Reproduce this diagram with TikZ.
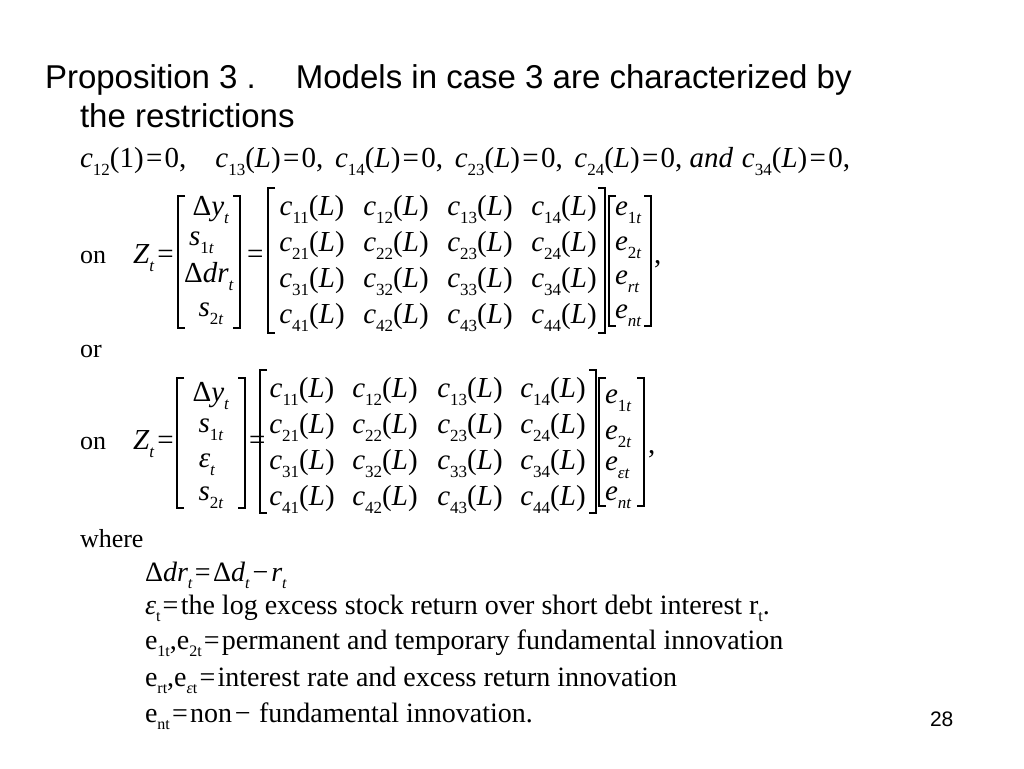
\documentclass[tikz,border=0pt]{standalone}
\usepackage{fontspec}
\setmainfont{Liberation Serif}
\setsansfont{Liberation Sans}
\newcommand\subsz{17}
\newcommand\sbs[1]{\raisebox{-0.28em}{\fontsize{\subsz}{\subsz}\selectfont #1}}
\newcommand\iv[1]{\textit{#1}}
\newcommand\eqs{\hspace{0.08em}=\hspace{0.08em}}
\newcommand\cL[1]{\iv{c}\sbs{#1}(\iv{L})}
\newcommand\cz[1]{\iv{c}\sbs{#1}(\iv{L})\eqs0,}
\begin{document}
\begin{tikzpicture}[x=1pt,y=-1pt,
  every node/.style={inner sep=0pt,outer sep=0pt},
  ttl/.style={font=\sffamily\fontsize{33}{38}\selectfont,anchor=base west},
  plain/.style={font=\fontsize{26}{30}\selectfont,anchor=base west},
  txt/.style={font=\fontsize{29}{33}\selectfont,anchor=base west},
  ent/.style={font=\fontsize{29}{33}\selectfont,anchor=base},
  wl/.style={font=\fontsize{28}{32}\selectfont\renewcommand\subsz{16},anchor=base west},
  brk/.style={line width=1.1pt,line cap=butt,line join=miter}]
\useasboundingbox[fill=white] (0,0) rectangle (1024,768);
% title
\node[ttl] (t1) at (45,88) {Proposition 3 .\hspace{40pt}Models in case 3 are characterized by};
\node[ttl] (t2) at (80,127) {the restrictions};
% restrictions
\node[txt] (r) at (80,167) {\iv{c}\sbs{12}(1)\eqs0,\hspace{1.0em}\cz{13}\hspace{0.4em}\cz{14}\hspace{0.4em}\cz{23}\hspace{0.4em}\cz{24} \iv{and}\hspace{0.3em}\cz{34}};
% ---------- matrix 1 ----------
\node[plain] (on1) at (80,263) {on};
\node[txt] (z1) at (133,263) {\iv{Z}\sbs{\iv{t}}\hspace{0.1em}=};
\node[ent] (v11) at (211,215) {Δ\iv{y}\sbs{\iv{t}}};
\node[txt] (v12) at (189,245) {\iv{s}\sbs{1\iv{t}}};
\node[ent] (v13) at (209,282) {Δ\iv{dr}\sbs{\iv{t}}};
\node[ent] (v14) at (211,316) {\iv{s}\sbs{2\iv{t}}};
\node[txt] (eq1) at (247,263) {=};
\foreach \r/\y in {1/215,2/251,3/287,4/323}{
  \foreach \c/\x in {1/312,2/396,3/480,4/564}{
    \node[ent] (a\r\c) at (\x,\y) {\cL{\r\c}};
  }
}
\node[txt] (e11) at (615,215) {\iv{e}\sbs{1\iv{t}}};
\node[txt] (e12) at (615,250) {\iv{e}\sbs{2\iv{t}}};
\node[txt] (e13) at (615,284) {\iv{e}\sbs{\iv{rt}}};
\node[txt] (e14) at (615,318) {\iv{e}\sbs{\iv{nt}}};
\node[txt] (cm1) at (654,263) {,};
% brackets matrix 1
\draw[brk] (185,196) -- (178,196) -- (178,328) -- (185,328);
\draw[brk] (233,196) -- (240,196) -- (240,328) -- (233,328);
\draw[brk] (275,188) -- (268,188) -- (268,333) -- (275,333);
\draw[brk] (598,188) -- (605,188) -- (605,333) -- (598,333);
\draw[brk] (616,196) -- (609,196) -- (609,326) -- (616,326);
\draw[brk] (644,196) -- (651,196) -- (651,326) -- (644,326);
% ---------- or ----------
\node[plain] (or) at (80,357) {or};
% ---------- matrix 2 ----------
\node[plain] (on2) at (80,449) {on};
\node[txt] (z2) at (133,449) {\iv{Z}\sbs{\iv{t}}\hspace{0.1em}=};
\node[ent] (w11) at (211,401) {Δ\iv{y}\sbs{\iv{t}}};
\node[ent] (w12) at (211,432) {\iv{s}\sbs{1\iv{t}}};
\node[ent] (w13) at (207,467) {\iv{ε}\sbs{\iv{t}}};
\node[ent] (w14) at (211,500) {\iv{s}\sbs{2\iv{t}}};
\node[txt] (eq2) at (249,449) {=};
\foreach \r/\y in {1/397,2/433,3/469,4/505}{
  \foreach \c/\x in {1/302,2/385,3/470,4/553}{
    \node[ent] (b\r\c) at (\x,\y) {\cL{\r\c}};
  }
}
\node[txt] (f11) at (605,403) {\iv{e}\sbs{1\iv{t}}};
\node[txt] (f12) at (605,439) {\iv{e}\sbs{2\iv{t}}};
\node[txt] (f13) at (605,470) {\iv{e}\sbs{\iv{εt}}};
\node[txt] (f14) at (605,500) {\iv{e}\sbs{\iv{nt}}};
\node[txt] (cm2) at (648,453) {,};
% brackets matrix 2
\draw[brk] (184,378) -- (177,378) -- (177,508) -- (184,508);
\draw[brk] (238,378) -- (245,378) -- (245,508) -- (238,508);
\draw[brk] (267,370) -- (260,370) -- (260,513) -- (267,513);
\draw[brk] (589,370) -- (596,370) -- (596,513) -- (589,513);
\draw[brk] (606,378) -- (599,378) -- (599,506) -- (606,506);
\draw[brk] (637,378) -- (644,378) -- (644,506) -- (637,506);
% ---------- where ----------
\node[plain] (wh) at (80,547) {where};
\node[wl] (d1) at (145,581) {Δ\iv{dr}\sbs{\iv{t}}\eqs Δ\iv{d}\sbs{\iv{t}}\hspace{0.1em}−\hspace{0.1em}\iv{r}\sbs{\iv{t}}};
\node[wl] (d2) at (145,614) {\iv{ε}\sbs{t}\eqs the log excess stock return over short debt interest r\sbs{t}.};
\node[wl] (d3) at (145,649) {e\sbs{1t},e\sbs{2t}\eqs permanent and temporary fundamental innovation};
\node[wl] (d4) at (145,686) {e\sbs{rt},e\sbs{\iv{ε}t}\eqs interest rate and excess return innovation};
\node[wl] (d5) at (145,722) {e\sbs{nt}\eqs non\hspace{0.1em}−\hspace{0.3em}fundamental innovation.};
% page number
\node[anchor=base west,font=\sffamily\fontsize{21}{24}\selectfont] (pg) at (930,726) {28};
\end{tikzpicture}
\end{document}
